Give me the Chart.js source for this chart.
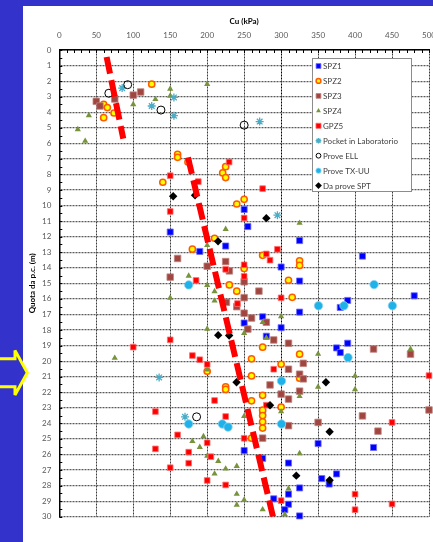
<!DOCTYPE html>
<html>
<head>
<meta charset="utf-8">
<script src="https://cdn.jsdelivr.net/npm/chart.js@4.4.1/dist/chart.umd.min.js"></script>
<style>
  html, body { margin: 0; padding: 0; }
  body { width: 433px; height: 542px; background: #3333CC; position: relative; overflow: hidden; }
  #foglio { position: absolute; left: 23px; top: 6px; width: 410px; height: 536px; background: #fff; }
  #grafico { position: absolute; left: 0; top: 0; }
  #freccia { position: absolute; left: 0; top: 0; }
</style>
</head>
<body>
<div id="foglio"></div>
<svg id="freccia" width="40" height="542">
  <polygon points="-5,358.7 15,358.7 15,350.4 27.3,372.7 15,395 15,386.7 -5,386.7"
           fill="#3333CC" stroke="#FFFF00" stroke-width="3" stroke-linejoin="miter"/>
</svg>
<canvas id="grafico" width="433" height="542"></canvas>
<script>
// valori: [Cu (kPa), quota (m)]
const serie = ['SPZ1', 'SPZ2', 'SPZ3', 'SPZ4', 'GPZ5', 'Pocket in Laboratorio', 'Prove ELL', 'Prove TX-UU', 'Da prove SPT'];

const spz1 = [[250,10.25],[255,11.35],[150,11.7],[225,12.6],[190,12.95],[325,12.25],[300,13.95],[410,13.25],[325,14.85],[480,15.8],[390,16.1],[380,16.55],[325,16.85],[275,17.15],[250,17.55],[300,17.85],[280,18.4],[390,18.85],[375,19.15],[380,19.45],[275,23.3],[250,25.75],[350,25.3],[425,25.55],[275,26.25],[310,26.55],[375,27.25],[355,27.55],[365,27.9],[325,28.15],[310,28.55],[290,28.85],[310,29.2],[305,29.55],[325,29.95]];

const spz2 = [[125,2.2],[60,3.5],[65,3.7],[60,4.35],[74,4.05],[160,6.7],[160,6.9],[174,7.2],[225,7.5],[221,7.9],[225,8.2],[140,8.5],[250,9.6],[240,9.9],[210,12.1],[180,12.8],[275,13.2],[325,13.55],[325,13.85],[250,14.05],[310,14.8],[230,15.1],[240,15.5],[315,15.9],[275,19.1],[325,19.55],[260,19.85],[300,20.2],[200,20.65],[260,20.95],[325,21.1],[225,21.65],[225,21.82],[275,22.2],[260,22.55],[300,22.95],[275,23.15],[275,23.5],[275,23.9],[275,24.3],[260,24.95]];

const spz3 = [[110,2.7],[100,2.9],[75,3.15],[50,3.3],[55,3.6],[160,13.4],[225,13.6],[200,13.9],[230,14.2],[150,14.6],[250,14.9],[270,15.5],[250,15.92],[226,16.22],[240,16.5],[250,16.92],[260,17.23],[280,17.5],[255,17.94],[290,18.64],[310,18.85],[425,19.22],[475,19.55],[330,20.14],[310,20.52],[325,20.84],[330,21.14],[285,21.53],[325,21.93],[300,22.12],[310,22.44],[500,23.14],[410,23.52],[350,23.94],[310,24.15],[431,24.5],[275,24.95]];

const spz4 = [[200,2.2],[150,2.5],[150,2.95],[130,3.17],[100,3.5],[40,4.2],[25,5.1],[35,5.85],[325,11.12],[225,11.52],[200,12.55],[175,14.52],[200,15.12],[210,15.52],[150,15.94],[210,16.12],[300,17.12],[275,17.5],[200,17.93],[250,18.2],[280,18.5],[475,19.23],[350,19.54],[75,19.8],[200,20.55],[400,20.95],[350,21.66],[400,21.82],[325,22.26],[300,23.24],[250,23.54],[195,24.84],[180,25.15],[190,25.53],[325,25.93],[200,26.1],[215,26.43],[240,26.75],[225,26.92],[210,27.24],[310,28.2],[240,28.54],[250,28.92],[240,29.24],[275,29.54],[305,29.85]];

const gpz5 = [[229.7,7.2],[150,8.08],[188,8.46],[275,8.91],[150,10.38],[250,10.8],[295,12.81],[280,13.11],[285,13.51],[250,13.81],[225,14.1],[250,14.55],[185,14.81],[300,15.93],[241,16.3],[150,18.63],[100,19.1],[180,19.64],[190,19.91],[200,20.21],[290,20.52],[500,20.93],[210,22.53],[280,22.83],[130,23.24],[225,23.56],[450,23.94],[160,24.74],[250,24.96],[200,25.25],[130,25.64],[175,25.85],[205,26.14],[175,26.56],[150,26.85],[200,27.67],[225,27.96],[400,28.55],[300,28.97],[450,29.18],[400,29.55]];

const pocket = [[85,2.45],[155,3.05],[125,3.6],[155,4.22],[271,4.6],[295,10.62],[135,21.05],[170,23.58]];
const ell = [[92.5,2.23],[67,2.78],[137.5,3.86],[250,4.83],[185.7,23.58]];
const txuu = [[175,15.1],[425.7,15.08],[350.5,16.44],[385,16.44],[450.5,16.44],[390.5,19.77],[300.5,21.28],[175,24.04],[220.5,24.04],[228.2,24.24],[300.5,24.04]];
const spt = [[154,9.4],[183.6,9.34],[280,10.81],[214.7,12.3],[214.9,18.33],[229.7,18.35],[239.7,21.36],[360.6,21.36],[285,22.84],[365.6,24.54],[320.5,27.36],[365.6,27.65]];

// rette di tendenza tratteggiate
const trend1 = [[64,0.45],[86.5,5.7]];
const trend2 = [[174,6.9],[289,30]];

// assi
const xMin = 0, xMax = 500, xStep = 50;
const yMin = 0, yMax = 30, yStep = 1;

const FONT = 'Lato, "DejaVu Sans", sans-serif';

function punti(lista) {
  return lista.map(p => ({ x: p[0], y: p[1] }));
}

const stili = [
  { dati: spz1,   pointStyle: 'rect',     radius: 4.3, bg: '#0000FF', bc: '#6B6BFF', bw: 0.8, lr: 3.4 },
  { dati: spz2,   pointStyle: 'circle',   radius: 3.1, bg: '#FFFF00', bc: '#FF5A00', bw: 1.5, lr: 2.4 },
  { dati: spz3,   pointStyle: 'rect',     radius: 4.6, bg: '#A0453F', bc: '#C08580', bw: 0.8, lr: 3.4 },
  { dati: spz4,   pointStyle: 'triangle', radius: 3.6, bg: '#77933C', bc: '#77933C', bw: 0,   lr: 2.8 },
  { dati: gpz5,   pointStyle: 'rect',     radius: 4.0, bg: '#FF0000', bc: '#FF7070', bw: 0.8, lr: 3.6 },
  { dati: pocket, pointStyle: 'star',     radius: 4.0, bg: '#4BACC6', bc: '#4BACC6', bw: 1.3, lr: 2.8 },
  { dati: ell,    pointStyle: 'circle',   radius: 4.0, bg: 'rgba(255,255,255,0)', bc: '#000000', bw: 1, lr: 2.4 },
  { dati: txuu,   pointStyle: 'circle',   radius: 4.2, bg: '#1FB2E8', bc: '#8AD3F0', bw: 0.8, lr: 2.6 },
  { dati: spt,    pointStyle: 'rectRot',  radius: 4.2, bg: '#000000', bc: '#000000', bw: 0,   lr: 3.4 }
];

const datasets = stili.map((s, i) => ({
  label: serie[i],
  data: punti(s.dati),
  pointStyle: s.pointStyle,
  pointRadius: s.radius,
  pointHoverRadius: s.radius,
  backgroundColor: s.bg,
  borderColor: s.bc,
  borderWidth: s.bw,
  legendRadius: s.lr,
  clip: false,
  order: 20 - i
}));

[trend1, trend2].forEach(t => {
  datasets.push({
    type: 'line',
    trend: true,
    data: punti(t),
    showLine: true,
    borderColor: '#FF0000',
    borderWidth: 6,
    borderDash: [17, 6.5],
    borderCapStyle: 'butt',
    pointRadius: 0,
    fill: false,
    order: 1
  });
});

// tacche secondarie interne sugli assi
const tacche = {
  id: 'tacche',
  beforeDatasetsDraw(chart) {
    const { ctx, chartArea: a, scales: { x, y } } = chart;
    ctx.save();
    ctx.strokeStyle = '#000';
    ctx.lineWidth = 1;
    ctx.beginPath();
    for (let v = xMin; v <= xMax; v += 10) {
      const px = Math.round(x.getPixelForValue(v)) + 0.5;
      ctx.moveTo(px, a.top);
      ctx.lineTo(px, a.top + 3);
    }
    for (let v = yMin; v <= yMax; v += 0.5) {
      const py = Math.round(y.getPixelForValue(v)) + 0.5;
      ctx.moveTo(a.left, py);
      ctx.lineTo(a.left + 3, py);
    }
    ctx.stroke();
    ctx.restore();
  }
};

// legenda dentro l'area del grafico, in alto a destra
const legenda = {
  id: 'legenda',
  afterDraw(chart) {
    const ctx = chart.ctx;
    const bx = 312.5, by = 58.5, bw = 99, bh = 133;
    ctx.save();
    ctx.fillStyle = '#fff';
    ctx.fillRect(bx, by, bw, bh);
    ctx.strokeStyle = '#8c8c8c';
    ctx.lineWidth = 1;
    ctx.strokeRect(bx, by, bw, bh);
    ctx.font = '8px ' + FONT;
    ctx.textBaseline = 'middle';
    let riga = 0;
    chart.data.datasets.forEach(ds => {
      if (ds.trend) return;
      const cy = 66 + riga * 14.95;
      ctx.fillStyle = ds.backgroundColor;
      ctx.strokeStyle = ds.borderColor;
      ctx.lineWidth = ds.borderWidth;
      Chart.helpers.drawPoint(ctx, {
        pointStyle: ds.pointStyle,
        radius: ds.legendRadius,
        borderWidth: ds.borderWidth,
        rotation: 0
      }, 318.5, cy);
      ctx.fillStyle = '#404040';
      ctx.fillText(ds.label, 323, cy + 0.5);
      riga++;
    });
    ctx.restore();
  }
};

new Chart(document.getElementById('grafico'), {
  type: 'scatter',
  data: { datasets: datasets },
  plugins: [tacche, legenda],
  options: {
    responsive: false,
    animation: false,
    events: [],
    layout: {
      autoPadding: false,
      padding: { left: 23, top: 6, right: 4, bottom: 25.3 }
    },
    plugins: {
      legend: { display: false },
      tooltip: { enabled: false }
    },
    scales: {
      x: {
        type: 'linear',
        position: 'top',
        min: xMin,
        max: xMax,
        afterFit: s => { s.height = 44; s.paddingLeft = 0; s.paddingRight = 0; },
        ticks: {
          stepSize: xStep,
          maxRotation: 0,
          padding: 10,
          color: '#595959',
          font: { family: FONT, size: 8 }
        },
        grid: {
          drawTicks: false,
          lineWidth: 1,
          color: c => (c.tick && c.tick.value === 300) ? '#000' : '#3a3a3a'
        },
        border: { display: true, color: '#000', width: 1.5, dash: [2, 1] },
        title: {
          display: true,
          text: 'Cu (kPa)',
          color: '#000',
          font: { family: FONT, size: 8, weight: 'bold' },
          padding: { top: 11, bottom: 0 }
        }
      },
      y: {
        type: 'linear',
        reverse: true,
        min: yMin,
        max: yMax,
        afterFit: s => { s.width = 36.3; s.paddingTop = 0; s.paddingBottom = 0; },
        ticks: {
          stepSize: yStep,
          padding: 8,
          color: '#595959',
          font: { family: FONT, size: 8 }
        },
        grid: {
          drawTicks: false,
          lineWidth: 1.2,
          color: '#5a5a5a'
        },
        border: { display: true, color: '#000', width: 1.5, dash: [2, 1] },
        title: {
          display: true,
          text: 'Quota da p.c. (m)',
          color: '#000',
          font: { family: FONT, size: 8, weight: 'bold' },
          padding: { top: 5, bottom: 0 }
        }
      }
    }
  }
});
</script>
</body>
</html>
